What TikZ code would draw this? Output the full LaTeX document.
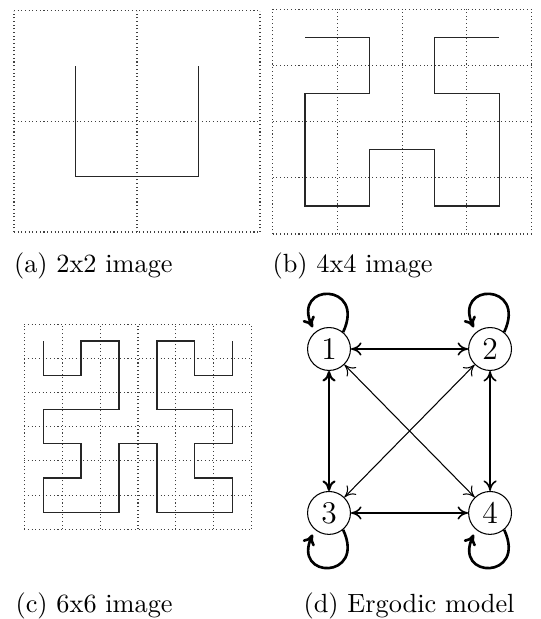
\documentclass[tikz,border=0pt]{standalone}
\usetikzlibrary{positioning,arrows.meta}
\tikzset{
  hgrid/.style   ={densely dotted, line width=0.4pt, black!75},
  hcurve/.style  ={line width=0.5pt, black!85},
  hmmstate/.style={circle, draw=black, line width=0.4pt, minimum size=16.3pt,
                   inner sep=0pt, font=\large},
  hmmedge/.style ={<->, >={To[length=4pt, width=5pt]}, line width=0.6pt},
  hmmdiag/.style ={<->, >={To[length=4pt, width=5pt]}, line width=0.4pt},
  hmmloop/.style ={->, >={To[length=4pt, width=5pt]}, line width=1pt,
                   looseness=5, shorten >=2pt},
  subcap/.style  ={anchor=base west, inner sep=0pt},
}

\begin{document}
\begin{tikzpicture}[x=0.38pt, y=0.38pt, node distance=45.6pt and 44.5pt]
        \useasboundingbox (0,0) rectangle (540,619);
        % 2x2
        \begin{scope}[shift={(14,387)}, x=46.74pt, y=42pt]
            \draw[hgrid, xstep=46.74pt, ystep=42pt] (0,0) grid (2,2);
            \draw[hcurve] (0.5,1.5) -- (0.5,0.5) -- (1.5,0.5) -- (1.5,1.5);
        \end{scope}
        % 4x4
        \begin{scope}[shift={(272.7,385)}, x=24.6pt, y=21.36pt]
            \draw[hgrid, xstep=24.6pt, ystep=21.36pt] (0,0) grid (4,4);
            \draw[hcurve] (0.5,3.5) -- (1.5,3.5) -- (1.5,2.5) -- (0.5,2.5) -- (0.5,0.5)
                -- (1.5,0.5) -- (1.5,1.5) -- (2.5,1.5) -- (2.5,0.5) -- (3.5,0.5)
                -- (3.5,2.5) -- (2.5,2.5) -- (2.5,3.5) -- (3.5,3.5);
        \end{scope}
        % 6x6
        \begin{scope}[shift={(24.3,89.7)}, x=14.4pt, y=13pt]
            \draw[hgrid, xstep=14.4pt, ystep=13pt] (0,0) grid (6,6);
            \draw[hcurve] (0.5,5.5) -- (0.5,4.5) -- (1.5,4.5) -- (1.5,5.5) -- (2.5,5.5)
                -- (2.5,3.5) -- (0.5,3.5) -- (0.5,2.5) -- (1.5,2.5) -- (1.5,1.5)
                -- (0.5,1.5) -- (0.5,0.5) -- (2.5,0.5) -- (2.5,2.5) -- (3.5,2.5)
                -- (3.5,0.5) -- (5.5,0.5) -- (5.5,1.5) -- (4.5,1.5) -- (4.5,2.5)
                -- (5.5,2.5) -- (5.5,3.5) -- (3.5,3.5) -- (3.5,5.5) -- (4.5,5.5)
                -- (4.5,4.5) -- (5.5,4.5) -- (5.5,5.5);
        \end{scope}
        % ergodic model
        \node[hmmstate] (n1) at (329,270) {1};
        \node[hmmstate, right=of n1] (n2) {2};
        \node[hmmstate, below=of n1] (n3) {3};
        \node[hmmstate, right=of n3] (n4) {4};
        \draw[hmmedge] (n1) -- (n2);
        \draw[hmmedge, line width=0.8pt] (n1) -- (n3);
        \draw[hmmedge] (n2) -- (n4);
        \draw[hmmedge] (n3) -- (n4);
        \draw[hmmdiag] (n1) -- (n4);
        \draw[hmmdiag] (n2) -- (n3);
        \draw[hmmloop] (n1.50) to[out=65, in=115] (n1.130);
        \draw[hmmloop] (n2.50) to[out=65, in=115] (n2.130);
        \draw[hmmloop] (n3.-50) to[out=-65, in=-115] (n3.-130);
        \draw[hmmloop] (n4.-50) to[out=-65, in=-115] (n4.-130);
        % captions
        \node[subcap] (capa) at (13.5,346) {(a) 2x2 image};
        \node[subcap] (capb) at (272,346) {(b) 4x4 image};
        \node[subcap] (capc) at (15,7) {(c) 6x6 image};
        \node[subcap] (capd) at (303,7) {(d) Ergodic model};
\end{tikzpicture}
\end{document}
